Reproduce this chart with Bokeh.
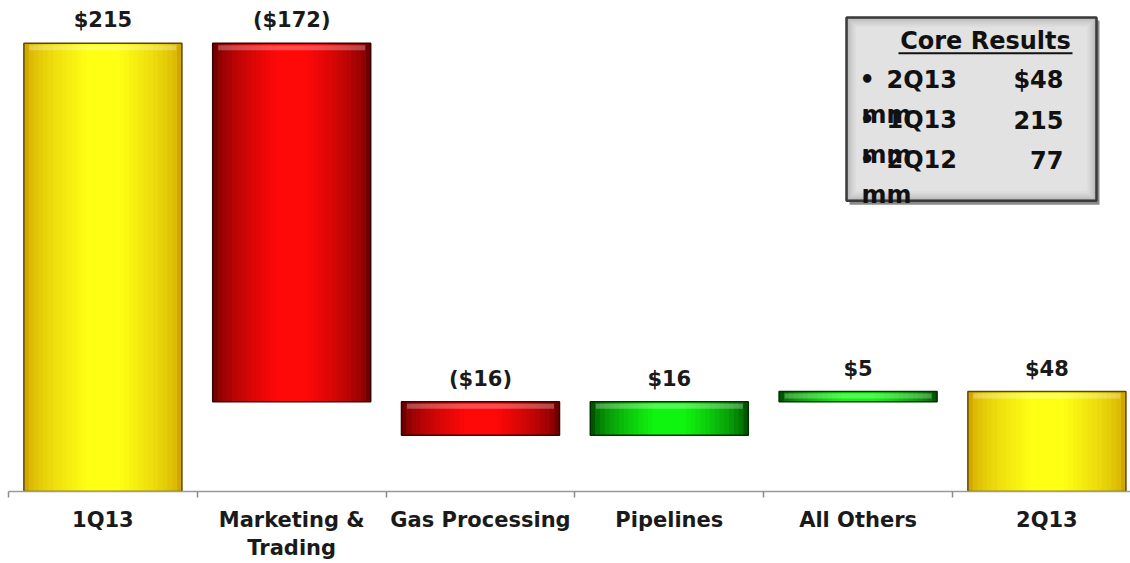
import numpy as np
from bokeh.plotting import figure
from bokeh.models import Range1d, FixedTicker, ColumnDataSource
from bokeh.core.properties import value
from bokeh.embed import file_html
from bokeh.resources import INLINE

# ---------------- data ----------------
categories = ["1Q13", "Marketing &\nTrading", "Gas Processing", "Pipelines", "All Others", "2Q13"]
values = [215, -172, -16, 16, 5, 48]
kinds = ["total", "delta", "delta", "delta", "delta", "total"]

legend_title = "Core Results"
legend_periods = ["2Q13", "1Q13", "2Q12"]
legend_values = ["$48", "215", "77"]
legend_unit = "mm"

# ---------------- layout ----------------
W, H = 1130, 563
LEFT, BOTTOM = 8, 70
PX_PER_CAT = 188.8
PX_PER_UNIT = 2.093
frame_w = W - LEFT
frame_h = H - BOTTOM
X0 = -0.5
X1 = X0 + frame_w / PX_PER_CAT
Y1 = frame_h / PX_PER_UNIT
TFIX = 8  # text baseline correction in px


def sx(px):
    return X0 + (px - LEFT) / PX_PER_CAT


def sy(py):
    return (frame_h - py) / PX_PER_UNIT


def ty(py):
    return sy(py - TFIX)


FONT = value("DejaVu Sans")

# ---------------- waterfall geometry ----------------
xs = list(range(len(categories)))
bottoms, tops, styles = [], [], []
running = 0
for v, k in zip(values, kinds):
    if k == "total":
        bottoms.append(0)
        tops.append(v)
        running = v
        styles.append("yellow")
    else:
        new = running + v
        bottoms.append(min(running, new))
        tops.append(max(running, new))
        running = new
        styles.append("green" if v > 0 else "red")

labels = [f"${v}" if v > 0 else f"(${-v})" for v in values]

palette = {
    "yellow": ((0xD2, 0xA8, 0x00), (0xFF, 0xFF, 0x14), "#5a4800"),
    "red": ((0x70, 0x00, 0x00), (0xFF, 0x08, 0x08), "#3c0000"),
    "green": ((0x00, 0x55, 0x00), (0x10, 0xF5, 0x10), "#003000"),
}


def mix(c1, c2, t):
    return "#%02x%02x%02x" % tuple(int(round(a + (b - a) * t)) for a, b in zip(c1, c2))


p = figure(width=W, height=H, output_backend="svg", toolbar_location=None,
           x_range=Range1d(X0, X1), y_range=Range1d(0, Y1),
           min_border_left=LEFT, min_border_right=0, min_border_top=0,
           min_border_bottom=BOTTOM, background_fill_color="white",
           border_fill_color="white", outline_line_color=None)
p.xgrid.visible = False
p.ygrid.visible = False
p.yaxis.visible = False

BAR_W = 0.837
N = 14
for k in range(N):
    t = k / (N - 1)
    w = BAR_W * (1 - 0.85 * k / N)
    cols = [mix(palette[s][0], palette[s][1], t ** 0.6) for s in styles]
    src = ColumnDataSource(dict(x=xs, b=bottoms, t=tops, c=cols))
    p.vbar(x="x", bottom="b", top="t", width=w, source=src, fill_color="c",
           line_color=None)

# top bevel highlight
hl_src = ColumnDataSource(dict(x=xs, b=[t - 7 / PX_PER_UNIT for t in tops],
                               t=[t - 2 / PX_PER_UNIT for t in tops]))
p.vbar(x="x", bottom="b", top="t", width=BAR_W * 0.93, source=hl_src,
       fill_color="white", fill_alpha=0.28, line_color=None)

# outline
src_o = ColumnDataSource(dict(x=xs, b=bottoms, t=tops,
                              c=[palette[s][2] for s in styles]))
p.vbar(x="x", bottom="b", top="t", width=BAR_W, source=src_o, fill_alpha=0,
       line_color="c", line_width=1.5)

# value labels
lab_src = ColumnDataSource(dict(x=xs, y=[t + (15 + TFIX) / PX_PER_UNIT for t in tops], text=labels))
p.text(x="x", y="y", text="text", source=lab_src, text_align="center",
       text_baseline="alphabetic", text_font=FONT, text_font_style="bold",
       text_font_size="21px", text_color="#1a1a1a")

# axis
p.xaxis.ticker = FixedTicker(ticks=xs, minor_ticks=[i - 0.5 for i in range(len(categories) + 1)])
p.xaxis.major_label_overrides = {i: c for i, c in zip(xs, categories)}
p.xaxis.major_tick_line_color = None
p.xaxis.major_tick_in = 0
p.xaxis.major_tick_out = 0
p.xaxis.minor_tick_line_color = "#8c8c8c"
p.xaxis.minor_tick_line_width = 1.5
p.xaxis.minor_tick_in = 0
p.xaxis.minor_tick_out = 6
p.xaxis.axis_line_color = "#9a9a9a"
p.xaxis.axis_line_width = 1.5
p.xaxis.major_label_text_font = "DejaVu Sans"
p.xaxis.major_label_text_font_style = "bold"
p.xaxis.major_label_text_font_size = "21px"
p.xaxis.major_label_text_color = "#1a1a1a"
p.xaxis.major_label_standoff = 10

# ---------------- "Core Results" box ----------------
BL, BR, BT, BB = 846, 1096, 17, 201
p.quad(left=sx(BL + 3), right=sx(BR + 3), top=sy(BT + 3), bottom=sy(BB + 4),
       fill_color="#8a8a8a", line_color=None)
NB = 7
for k in range(NB):
    t = k / (NB - 1)
    inset = 1.6 * k
    p.quad(left=sx(BL + inset), right=sx(BR - inset), top=sy(BT + inset),
           bottom=sy(BB - inset), fill_color=mix((0xA8, 0xA8, 0xA8), (0xE2, 0xE2, 0xE2), t ** 0.5),
           line_color=None)
p.quad(left=sx(BL), right=sx(BR), top=sy(BT), bottom=sy(BB), fill_alpha=0,
       line_color="#3a3a3a", line_width=2.5)

p.text(x=[sx(985)], y=[ty(49)], text=[legend_title], text_align="center",
       text_baseline="alphabetic", text_font=FONT, text_font_style="bold",
       text_font_size="24px", text_color="#111111")
p.segment(x0=[sx(898)], y0=[sy(53)], x1=[sx(1072)], y1=[sy(53)],
          line_color="#111111", line_width=2)

n = len(legend_periods)
base = [88 + 40 * i for i in range(n)]
p.text(x=[sx(859)] * n, y=[ty(b) for b in base], text=["\u2022"] * n,
       text_align="left", text_baseline="alphabetic", text_font=FONT,
       text_font_style="bold", text_font_size="24px", text_color="#111111")
p.text(x=[sx(886)] * n, y=[ty(b) for b in base], text=legend_periods,
       text_align="left", text_baseline="alphabetic", text_font=FONT,
       text_font_style="bold", text_font_size="24px", text_color="#111111")
p.text(x=[sx(1063)] * n, y=[ty(b) for b in base], text=legend_values,
       text_align="right", text_baseline="alphabetic", text_font=FONT,
       text_font_style="bold", text_font_size="24px", text_color="#111111")
p.text(x=[sx(861)] * n, y=[ty(b + 35) for b in base], text=[legend_unit] * n,
       text_align="left", text_baseline="alphabetic", text_font=FONT,
       text_font_style="bold", text_font_size="24px", text_color="#111111")

open("out.html", "w").write(file_html(p, INLINE))
